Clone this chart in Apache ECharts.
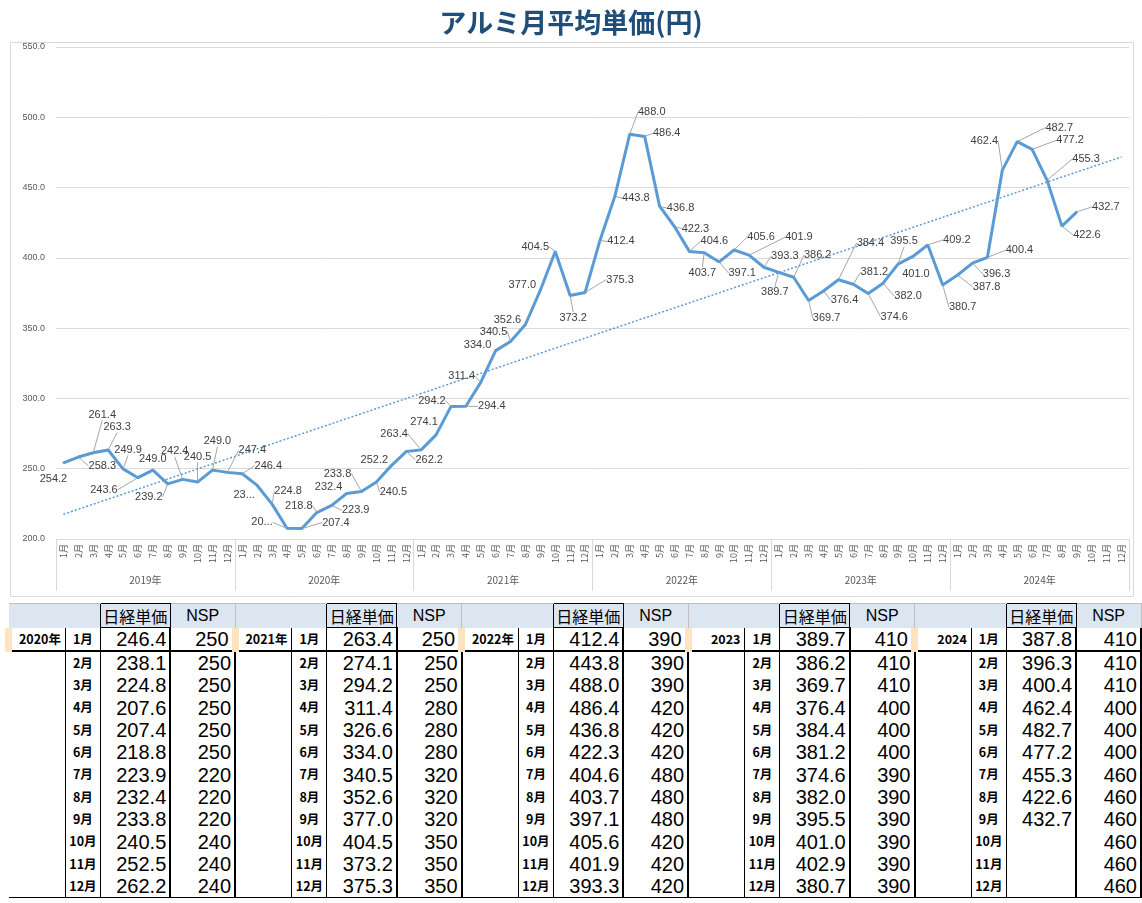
<!DOCTYPE html>
<html>
<head>
<meta charset="utf-8">
<script src="https://cdn.jsdelivr.net/npm/echarts@6/dist/echarts.min.js"></script>
<style>
html,body{margin:0;padding:0;background:#fff;}
#chart{position:absolute;left:0;top:0;width:1142px;height:600px;}
#tbl{position:absolute;left:5px;top:603px;}
table{border-collapse:collapse;table-layout:fixed;font-family:"Liberation Sans",Arial,sans-serif;}
td{padding:0;margin:0;overflow:hidden;white-space:nowrap;line-height:1;}
tr.hdr td{background:#dce6f1;height:23px;border-top:1px solid #bfbfbf;}
tr.hdr td.nk{border:1px solid #000;font-family:"Noto Sans CJK JP",sans-serif;font-size:16px;text-align:center;}
tr.hdr td.ns{font-size:16px;text-align:center;border-right:1px solid #bfbfbf;}
tr.r1 td{height:22px;border-bottom:2px solid #000;}
tr.rn td{height:22.3px;}
td.yr{font-family:"Noto Sans CJK JP",sans-serif;font-weight:bold;font-size:12.5px;text-align:right;padding-right:4px;}
td.yr.first{border-left:7px solid #fce4c0;}
td.mo{font-family:"Noto Sans CJK JP",sans-serif;font-weight:bold;font-size:12.5px;text-align:center;border-left:1px solid #000;}
td.v1{font-size:20px;text-align:right;padding-right:3px;border-left:1px solid #000;border-right:2px solid #000;}
td.v2{font-size:20px;text-align:right;padding-right:3px;border-right:2px solid #000;}
tr.last td{border-bottom:1px solid #000;}
</style>
</head>
<body>
<div id="chart"></div>
<div id="tbl"></div>
<script>
// ---------- chart data ----------
const years = ['2019年','2020年','2021年','2022年','2023年','2024年'];
const monthLabels = ['1月','2月','3月','4月','5月','6月','7月','8月','9月','10月','11月','12月'];
const price2019 = [254.2, 258.3, 261.4, 263.3, 249.9, 243.6, 249.0, 239.2, 242.4, 240.5, 249.0, 247.4];
const price2020 = [246.4, 238.1, 224.8, 207.6, 207.4, 218.8, 223.9, 232.4, 233.8, 240.5, 252.2, 262.2];
const price2021 = [263.4, 274.1, 294.2, 294.4, 311.4, 334.0, 340.5, 352.6, 377.0, 404.5, 373.2, 375.3];
const price2022 = [412.4, 443.8, 488.0, 486.4, 436.8, 422.3, 404.6, 403.7, 397.1, 405.6, 401.9, 393.3];
const price2023 = [389.7, 386.2, 369.7, 376.4, 384.4, 381.2, 374.6, 382.0, 395.5, 401.0, 409.2, 380.7];
const price2024 = [387.8, 396.3, 400.4, 462.4, 482.7, 477.2, 455.3, 422.6, 432.7, null, null, null];
const trendStart = 217.6;   // trend line value at first month
const trendEnd = 471.8;     // trend line value at last month
const yTicks = [200, 250, 300, 350, 400, 450, 500, 550];
const truncatedLabels = [13, 15]; // labels shown cut off in the original

// ---------- table data ----------
const tableYears = ['2020年', '2021年', '2022年', '2023', '2024'];
const nikkei2020 = [246.4, 238.1, 224.8, 207.6, 207.4, 218.8, 223.9, 232.4, 233.8, 240.5, 252.5, 262.2];
const nikkei2021 = [263.4, 274.1, 294.2, 311.4, 326.6, 334.0, 340.5, 352.6, 377.0, 404.5, 373.2, 375.3];
const nikkei2022 = [412.4, 443.8, 488.0, 486.4, 436.8, 422.3, 404.6, 403.7, 397.1, 405.6, 401.9, 393.3];
const nikkei2023 = [389.7, 386.2, 369.7, 376.4, 384.4, 381.2, 374.6, 382.0, 395.5, 401.0, 402.9, 380.7];
const nikkei2024 = [387.8, 396.3, 400.4, 462.4, 482.7, 477.2, 455.3, 422.6, 432.7, null, null, null];
const nsp2020 = [250, 250, 250, 250, 250, 250, 220, 220, 220, 240, 240, 240];
const nsp2021 = [250, 250, 250, 280, 280, 280, 320, 320, 320, 350, 350, 350];
const nsp2022 = [390, 390, 390, 420, 420, 420, 480, 480, 480, 420, 420, 420];
const nsp2023 = [410, 410, 410, 400, 400, 400, 390, 390, 390, 390, 390, 390];
const nsp2024 = [410, 410, 410, 400, 400, 400, 460, 460, 460, 460, 460, 460];

// ---------- label placement (style, offsets from each point) ----------
const labelOffsets = [
  [-10,16],[24,9],[9,-38],[9,-23],[5,-19],[-34,12],[0,-11],[-19,13],[-8,-28],[0,-25],[5,-29],[25,-22],
  [26,-8],[-13,10],[16,-13],[-25,-6],[34,-6],[-18,-7],[24,5],[-18,-6],[-24,-18],[17,10],[-17,-6],[23,8],
  [-27,-16],[-12,-13],[-19,-6],[26,0],[-19,-6],[-18,-6],[-17,-10],[-18,-5],[-18,-5],[-20,-5],[3,22],[35,-13],
  [21,1],[21,2],[22,-22],[22,-3],[21,2],[21,2],[25,-10],[-2,20],[23,11],[27,-13],[50,-18],[21,-11],
  [-4,20],[24,-22],[18,18],[21,9],[32,-37],[21,-12],[26,23],[25,13],[6,-23],[3,18],[29,-5],[20,22],
  [29,12],[24,11],[32,-7],[-18,-29],[42,-14],[38,-9],[39,-21],[25,9],[29,-5]
];

const allPrices = [].concat(price2019, price2020, price2021, price2022, price2023, price2024);
const categories = [];
years.forEach(() => monthLabels.forEach(m => categories.push(m)));

const mainData = allPrices.map((v, i) => {
  if (v === null) return null;
  const o = labelOffsets[i] || [0, -12];
  const far = Math.hypot(o[0], o[1]) > 19;
  return { value: v, labelLine: { show: far } };
});
const trendData = allPrices.map(() => null);
trendData[0] = trendStart;
trendData[trendData.length - 1] = trendEnd;

const chart = echarts.init(document.getElementById('chart'), null, { renderer: 'canvas' });
chart.setOption({
  animation: false,
  backgroundColor: '#fff',
  title: {
    text: 'アルミ月平均単価(円)',
    left: 'center',
    top: 4,
    textStyle: { fontFamily: 'Noto Sans CJK JP', fontSize: 27, fontWeight: 'bold', color: '#1f4e79' }
  },
  graphic: [{
    type: 'rect',
    shape: { x: 10.5, y: 42.5, width: 1123, height: 554 },
    style: { fill: 'none', stroke: '#d9d9d9', lineWidth: 1 },
    z: -1
  }],
  grid: { left: 56, right: 13, top: 47, height: 492 },
  xAxis: [{
    type: 'category',
    data: categories,
    boundaryGap: true,
    axisLine: { show: true, lineStyle: { color: '#d9d9d9' } },
    axisTick: { show: false },
    axisLabel: {
      interval: 0, rotate: 90, margin: 5,
      fontFamily: 'Noto Sans CJK JP', fontSize: 9, color: '#595959'
    }
  }, {
    type: 'category',
    data: years,
    position: 'bottom',
    boundaryGap: true,
    axisLine: { show: false },
    axisTick: { show: true, interval: 0, length: 52, lineStyle: { color: '#d9d9d9' } },
    axisLabel: {
      interval: 0, margin: 36,
      fontFamily: 'Noto Sans CJK JP', fontSize: 10, color: '#595959'
    }
  }],
  yAxis: {
    type: 'value',
    min: yTicks[0],
    max: yTicks[yTicks.length - 1],
    interval: yTicks[1] - yTicks[0],
    axisLine: { show: false },
    axisTick: { show: false },
    splitLine: { lineStyle: { color: '#d9d9d9' } },
    axisLabel: {
      margin: 11, fontFamily: 'Liberation Sans', fontSize: 9, color: '#595959',
      formatter: v => v.toFixed(1)
    }
  },
  series: [{
    type: 'line',
    xAxisIndex: 0,
    data: mainData,
    symbol: 'circle',
    symbolSize: 2,
    showSymbol: true,
    lineStyle: { color: '#5b9bd5', width: 3 },
    itemStyle: { color: '#5b9bd5' },
    z: 3,
    label: {
      show: true,
      fontFamily: 'Liberation Sans',
      fontSize: 11,
      color: '#404040',
      formatter: p => {
        const s = p.value.toFixed(1);
        return truncatedLabels.includes(p.dataIndex) ? s.slice(0, 2) + '...' : s;
      }
    },
    labelLine: { show: true, smooth: false, lineStyle: { color: '#a6a6a6', width: 1 } },
    labelLayout: params => {
      const o = labelOffsets[params.dataIndex] || [0, -12];
      const r = params.rect;
      return {
        x: r.x + r.width / 2 + o[0],
        y: r.y + r.height / 2 + o[1],
        align: 'center',
        verticalAlign: 'middle'
      };
    }
  }, {
    type: 'line',
    xAxisIndex: 0,
    data: trendData,
    connectNulls: true,
    symbol: 'none',
    lineStyle: { color: '#5b9bd5', width: 1.5, type: [2, 2] },
    z: 2,
    silent: true
  }]
});

// ---------- table ----------
const tableNikkei = [nikkei2020, nikkei2021, nikkei2022, nikkei2023, nikkei2024];
const tableNSP = [nsp2020, nsp2021, nsp2022, nsp2023, nsp2024];
const colW = [57, 35, 70, 65];
let html = '<table><colgroup>';
tableYears.forEach(() => colW.forEach(w => { html += '<col style="width:' + w + 'px">'; }));
html += '</colgroup>';
html += '<tr class="hdr">';
tableYears.forEach(() => {
  html += '<td></td><td></td><td class="nk">日経単価</td><td class="ns">NSP</td>';
});
html += '</tr>';
for (let m = 0; m < 12; m++) {
  const cls = m === 0 ? 'r1' : (m === 11 ? 'rn last' : 'rn');
  html += '<tr class="' + cls + '">';
  tableYears.forEach((y, b) => {
    const nv = tableNikkei[b][m];
    html += '<td class="yr' + (m === 0 ? ' first' : '') + '">' + (m === 0 ? y : '') + '</td>';
    html += '<td class="mo">' + monthLabels[m] + '</td>';
    html += '<td class="v1">' + (nv === null ? '' : nv.toFixed(1)) + '</td>';
    html += '<td class="v2">' + tableNSP[b][m] + '</td>';
  });
  html += '</tr>';
}
html += '</table>';
document.getElementById('tbl').innerHTML = html;
</script>
</body>
</html>
